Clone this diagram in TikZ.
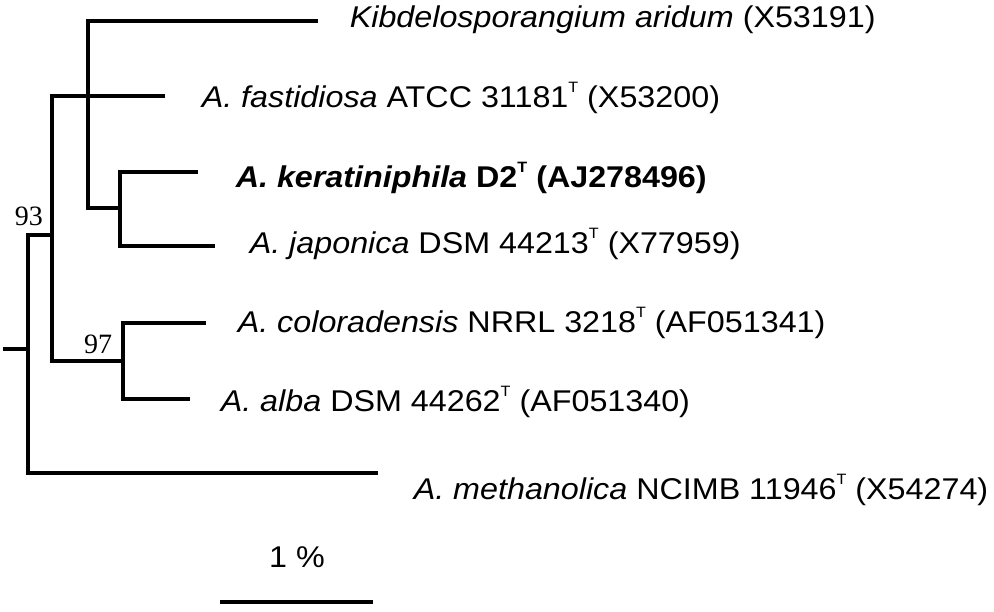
\documentclass[tikz,border=0pt]{standalone}
\usepackage{fontspec}
\setmainfont[FakeStretch=1.076]{Liberation Sans}
\newfontfamily\bootfont{Liberation Serif}
\newcommand{\typ}{\raisebox{0.5em}{\fontsize{15}{15}\selectfont T}}

\begin{document}
\begin{tikzpicture}[x=1pt, y=-1pt, line width=3.6pt,
        taxon/.style={anchor=base west, inner sep=0pt, font=\fontsize{30}{32}\selectfont},
        boot/.style={inner sep=0pt, font=\bootfont\fontsize{28}{30}\selectfont}]
    \useasboundingbox (0,0) rectangle (994,611);
    % branch points
    \coordinate (rt) at (3,349);
    \coordinate (rv) at (28,349);
    \coordinate (a) at (28,235);
    \coordinate (a2) at (52,235);
    \coordinate (b2) at (52,361);
    \coordinate (c2) at (88,208);
    \coordinate (d0) at (120,208);
    \coordinate (d2) at (120,246);
    \coordinate (e0) at (123,361);
    \coordinate (e2) at (123,399);
    % branch tips
    \coordinate (tkib) at (318,21);
    \coordinate (tfas) at (165,96);
    \coordinate (tker) at (198,172);
    \coordinate (tjap) at (215,246);
    \coordinate (tcol) at (206,323);
    \coordinate (talb) at (190,399);
    \coordinate (tmet) at (378,473);
    % taxa
    \node[taxon] (kib) at (348,27) {\textit{Kibdelosporangium aridum} (X53191)};
    \node[taxon] (fas) at (200,107) {\textit{A. fastidiosa} ATCC 31181\typ{} (X53200)};
    \node[taxon] (ker) at (234,187) {\bfseries\textit{A. keratiniphila} D2\typ{} (AJ278496)};
    \node[taxon] (jap) at (248,253) {\textit{A. japonica} DSM 44213\typ{} (X77959)};
    \node[taxon] (col) at (236,332) {\textit{A. coloradensis} NRRL 3218\typ{} (AF051341)};
    \node[taxon] (alb) at (219,411) {\textit{A. alba} DSM 44262\typ{} (AF051340)};
    \node[taxon] (met) at (412,499) {\textit{A. methanolica} NCIMB 11946\typ{} (X54274)};
    % tree
    \draw (rt) -- (rv);
    \draw (tmet) -| (a) -- (a2);
    \draw (tfas) -| (b2) -- (e0);
    \draw (tcol) -| (e2) -- (talb);
    \draw (tkib) -| (c2) -- (d0);
    \draw (tker) -| (d2) -- (tjap);
    % bootstrap values
    \node[boot] (b93) at (29,216) {93};
    \node[boot] (b97) at (98,344) {97};
    % scale bar
    \coordinate (s1) at (220,602);
    \coordinate (s2) at (373,602);
    \draw (s1) -- (s2);
    \node[taxon, anchor=base] (pct) at (297,567) {1 \%};
\end{tikzpicture}
\end{document}
